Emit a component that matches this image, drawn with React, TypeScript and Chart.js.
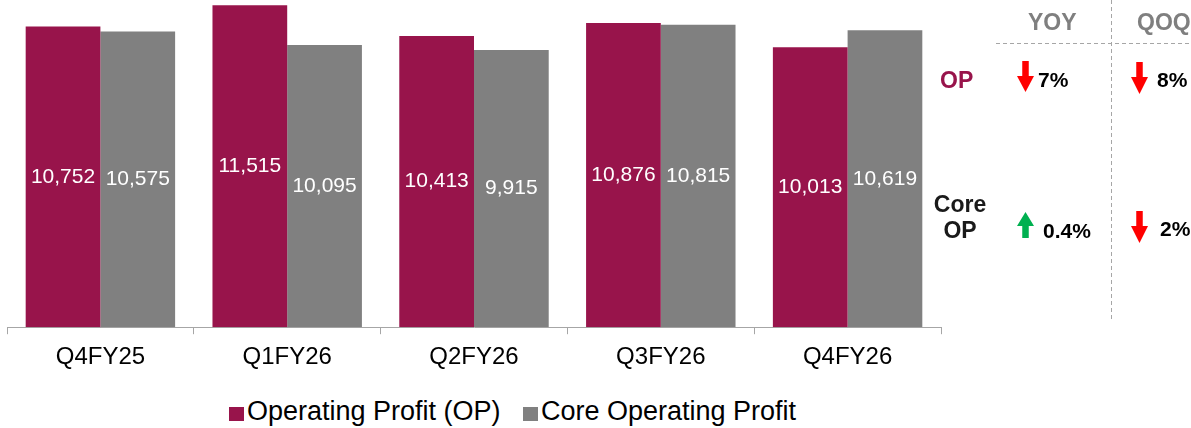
import React, { useEffect, useRef } from "react";
import { Chart, registerables } from "chart.js";

Chart.register(...registerables);

const categories = ["Q4FY25", "Q1FY26", "Q2FY26", "Q3FY26", "Q4FY26"];
const opValues = [10752, 11515, 10413, 10876, 10013];
const coreOpValues = [10575, 10095, 9915, 10815, 10619];
const seriesNames = ["Operating Profit (OP)", "Core Operating Profit"];
const seriesColors = ["#98144B", "#808080"];
const yoyChanges = ["7%", "0.4%"];
const qoqChanges = ["8%", "2%"];
const yoyDirections = ["down", "up"];
const qoqDirections = ["down", "down"];

const FONT = '"Liberation Sans", Arial, Helvetica, sans-serif';

const barLabelPlugin = {
  id: "barLabels",
  afterDatasetsDraw(chart: any) {
    const ctx = chart.ctx;
    ctx.save();
    ctx.font = `21px ${FONT}`;
    ctx.fillStyle = "#ffffff";
    ctx.textAlign = "center";
    ctx.textBaseline = "middle";
    chart.data.datasets.forEach((ds: any, di: number) => {
      const meta = chart.getDatasetMeta(di);
      meta.data.forEach((bar: any, i: number) => {
        const v = ds.data[i] as number;
        const txt = v.toLocaleString("en-US");
        ctx.fillText(txt, bar.x, (bar.y + bar.base) / 2);
      });
    });
    ctx.restore();
  },
};

function Arrow({ x, y, h, dir, color }: { x: number; y: number; h: number; dir: string; color: string }) {
  const w = 17;
  const head = Math.round(h * 0.52);
  const sw = 6.5;
  const sx = (w - sw) / 2;
  const pts =
    dir === "down"
      ? `${sx},0 ${sx + sw},0 ${sx + sw},${h - head} ${w},${h - head} ${w / 2},${h} 0,${h - head} ${sx},${h - head}`
      : `${w / 2},0 ${w},${head} ${sx + sw},${head} ${sx + sw},${h} ${sx},${h} ${sx},${head} 0,${head}`;
  return (
    <svg style={{ position: "absolute", left: x, top: y }} width={w} height={h}>
      <polygon points={pts} fill={color} />
    </svg>
  );
}

export default function App() {
  const canvasRef = useRef<HTMLCanvasElement | null>(null);

  useEffect(() => {
    if (!canvasRef.current) return;
    const chart = new Chart(canvasRef.current, {
      type: "bar",
      data: {
        labels: categories,
        datasets: [
          { label: seriesNames[0], data: opValues, backgroundColor: seriesColors[0], categoryPercentage: 0.8, barPercentage: 1.0 },
          { label: seriesNames[1], data: coreOpValues, backgroundColor: seriesColors[1], categoryPercentage: 0.8, barPercentage: 1.0 },
        ],
      },
      options: {
        responsive: false,
        animation: false,
        layout: { padding: { left: 7, right: 9, top: 0, bottom: 0 } },
        plugins: { legend: { display: false }, tooltip: { enabled: false } },
        scales: {
          x: {
            grid: { display: true, drawOnChartArea: false, drawTicks: true, tickLength: 7, offset: true, color: "#a6a6a6" },
            border: { display: true, color: "#a6a6a6", width: 1 },
            ticks: { padding: 9, color: "#000000", font: { family: FONT, size: 24 } },
          },
          y: { display: false, min: 0, max: 11700 },
        },
      },
      plugins: [barLabelPlugin],
    });
    return () => chart.destroy();
  }, []);

  const boldText = (size: number, color: string): React.CSSProperties => ({
    position: "absolute",
    fontFamily: FONT,
    fontWeight: "bold",
    fontSize: size,
    lineHeight: 1,
    color,
    whiteSpace: "nowrap",
  });

  const arrowColor = (d: string) => (d === "up" ? "#00B050" : "#FF0000");

  return (
    <div style={{ position: "absolute", left: 0, top: 0, width: 1191, height: 428, background: "#fff", overflow: "hidden" }}>
      <canvas ref={canvasRef} width={950} height={381} style={{ position: "absolute", left: 0, top: 0 }} />

      {/* legend */}
      {seriesNames.map((name, i) => (
        <div key={name} style={{ position: "absolute", left: i === 0 ? 229 : 523, top: 398, display: "flex", alignItems: "center", whiteSpace: "nowrap" }}>
          <div style={{ width: 15, height: 14, background: seriesColors[i], marginRight: 3, marginTop: 4 }} />
          <span style={{ fontFamily: FONT, fontSize: 27, lineHeight: "27px", color: "#000" }}>{name}</span>
        </div>
      ))}

      {/* comparison panel */}
      <svg style={{ position: "absolute", left: 0, top: 0 }} width={1191} height={428}>
        <line x1={996} y1={43.5} x2={1191} y2={43.5} stroke="#a6a6a6" strokeWidth={1} strokeDasharray="4 3" />
        <line x1={1111.5} y1={0} x2={1111.5} y2={322} stroke="#a6a6a6" strokeWidth={1} strokeDasharray="4 3" />
      </svg>
      <div style={{ ...boldText(23, "#7f7f7f"), left: 1028, top: 11 }}>YOY</div>
      <div style={{ ...boldText(23, "#7f7f7f"), left: 1137, top: 11 }}>QOQ</div>

      <div style={{ ...boldText(23, seriesColors[0]), left: 940, top: 69 }}>OP</div>
      <div style={{ ...boldText(23, "#1a1a1a"), left: 960, top: 191, lineHeight: "26px", textAlign: "center", transform: "translateX(-50%)" }}>
        Core
        <br />
        OP
      </div>

      <Arrow x={1017} y={61} h={31} dir={yoyDirections[0]} color={arrowColor(yoyDirections[0])} />
      <div style={{ ...boldText(21, "#000"), left: 1038, top: 69 }}>{yoyChanges[0]}</div>
      <Arrow x={1131} y={62} h={32} dir={qoqDirections[0]} color={arrowColor(qoqDirections[0])} />
      <div style={{ ...boldText(21, "#000"), left: 1157, top: 69 }}>{qoqChanges[0]}</div>

      <Arrow x={1017} y={212} h={26} dir={yoyDirections[1]} color={arrowColor(yoyDirections[1])} />
      <div style={{ ...boldText(21, "#000"), left: 1043, top: 220 }}>{yoyChanges[1]}</div>
      <Arrow x={1131} y={211} h={32} dir={qoqDirections[1]} color={arrowColor(qoqDirections[1])} />
      <div style={{ ...boldText(21, "#000"), left: 1160, top: 218 }}>{qoqChanges[1]}</div>
    </div>
  );
}
